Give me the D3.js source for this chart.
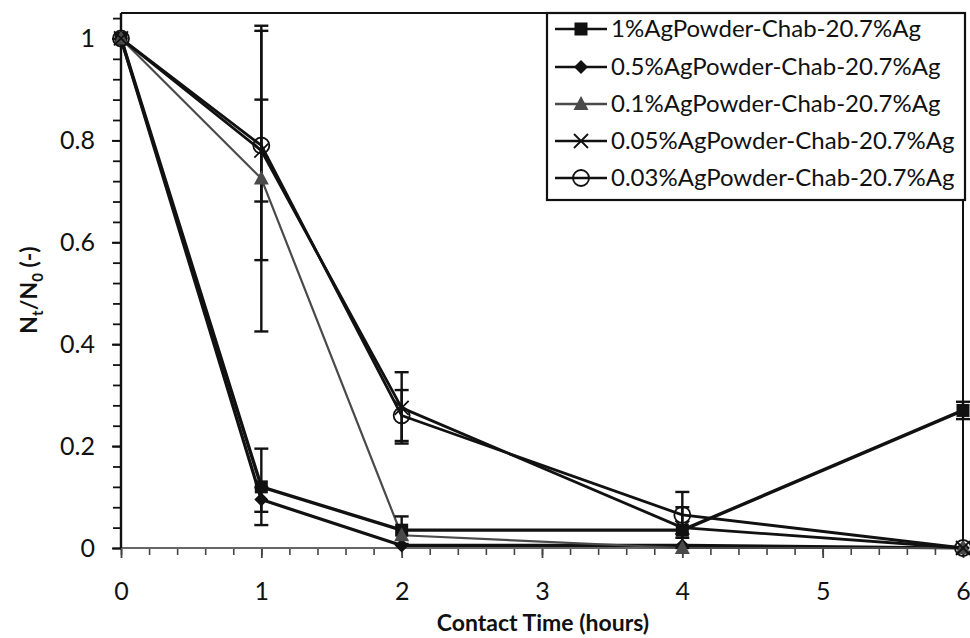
<!DOCTYPE html>
<html>
<head>
<meta charset="utf-8">
<script src="https://cdn.jsdelivr.net/npm/d3@7"></script>
<style>
  html, body { margin: 0; padding: 0; background: #fff; }
  svg { display: block; }
  text { font-family: Lato, "Open Sans", sans-serif; fill: #111; }
</style>
</head>
<body>
<svg id="chart" width="970" height="638"></svg>
<script>
// Contact time (hours) at which samples were taken
const times = [0, 1, 2, 4, 6];

// Normalised survivor ratio Nt/N0 for each silver loading, with error bar half-widths
const seriesNames = [
  "1%AgPowder-Chab-20.7%Ag",
  "0.5%AgPowder-Chab-20.7%Ag",
  "0.1%AgPowder-Chab-20.7%Ag",
  "0.05%AgPowder-Chab-20.7%Ag",
  "0.03%AgPowder-Chab-20.7%Ag"
];
const ag1Values   = [1, 0.12, 0.035, 0.035, 0.27];
const ag1Errors   = [0, 0.075, 0.027, 0, 0.017];
const ag05Values  = [1, 0.095, 0.005, 0.005, 0];
const ag05Errors  = [0, 0.024, 0, 0, 0];
const ag01Values  = [1, 0.725, 0.025, 0, 0];
const ag01Errors  = [0, 0.30, 0, 0, 0];
const ag005Values = [1, 0.78, 0.275, 0.04, 0];
const ag005Errors = [0, 0.10, 0.07, 0.04, 0];
const ag003Values = [1, 0.79, 0.26, 0.065, 0];
const ag003Errors = [0, 0.225, 0.05, 0.045, 0];

const xTicks = [0, 1, 2, 3, 4, 5, 6];
const yTicks = [0, 0.2, 0.4, 0.6, 0.8, 1];

const styles = [
  { color: "#111", width: 3.4, marker: "square" },
  { color: "#111", width: 3.2, marker: "diamond" },
  { color: "#4a4a4a", width: 2.2, marker: "triangle" },
  { color: "#111", width: 2.8, marker: "cross" },
  { color: "#111", width: 2.8, marker: "circle" }
];

const series = [
  { values: ag1Values, errors: ag1Errors },
  { values: ag05Values, errors: ag05Errors },
  { values: ag01Values, errors: ag01Errors },
  { values: ag005Values, errors: ag005Errors },
  { values: ag003Values, errors: ag003Errors }
].map((s, i) => ({
  name: seriesNames[i],
  style: styles[i],
  points: times.map((t, j) => ({ t, v: s.values[j], e: s.errors[j] }))
}));

const svg = d3.select("#chart");
const plot = { left: 121, right: 963, top: 13, bottom: 548 };

const x = d3.scaleLinear().domain([0, 6]).range([plot.left, plot.right]);
const y = d3.scaleLinear().domain([0, 1.05]).range([plot.bottom, plot.top]);

// Plot frame (top and right edges)
svg.append("path")
  .attr("d", `M${plot.left},${plot.top}H${plot.right}V${plot.bottom}`)
  .attr("fill", "none").attr("stroke", "#111").attr("stroke-width", 2);

// X axis with minor ticks every 0.2 h
const xMinor = d3.range(0, 6.0001, 0.2);
const xAxisG = svg.append("g").attr("transform", `translate(0,${plot.bottom})`);
xAxisG.call(d3.axisBottom(x).tickValues(xMinor).tickSize(7).tickFormat(""))
  .call(g => g.select(".domain").remove())
  .call(g => g.selectAll("line").attr("stroke", "#444").attr("stroke-width", 1.6));
xAxisG.append("g")
  .call(d3.axisBottom(x).tickValues(xTicks).tickSize(10).tickPadding(24).tickFormat(d3.format("d")))
  .call(g => g.select(".domain").remove())
  .call(g => g.selectAll("line").attr("stroke", "#444").attr("stroke-width", 1.8))
  .call(g => g.selectAll("text").attr("font-size", 25).attr("fill", "#111")
    .attr("font-family", "Lato, 'Open Sans', sans-serif"));
xAxisG.append("line")
  .attr("x1", plot.left).attr("x2", plot.right)
  .attr("stroke", "#666").attr("stroke-width", 2.2);

// Y axis with minor ticks every 0.04
const yMinor = d3.range(0, 1.0401, 0.04);
const yAxisG = svg.append("g").attr("transform", `translate(${plot.left},0)`);
yAxisG.call(d3.axisLeft(y).tickValues(yMinor).tickSize(8).tickFormat(""))
  .call(g => g.select(".domain").remove())
  .call(g => g.selectAll("line").attr("stroke", "#111").attr("stroke-width", 1.8));
yAxisG.append("g")
  .call(d3.axisLeft(y).tickValues(yTicks).tickSize(9).tickPadding(17).tickFormat(d => d === 0 || d === 1 ? d3.format("d")(d) : d3.format(".1f")(d)))
  .call(g => g.select(".domain").remove())
  .call(g => g.selectAll("line").attr("stroke", "#111").attr("stroke-width", 2))
  .call(g => g.selectAll("text").attr("font-size", 25).attr("fill", "#111")
    .attr("font-family", "Lato, 'Open Sans', sans-serif"));
yAxisG.append("line")
  .attr("y1", plot.top).attr("y2", plot.bottom)
  .attr("stroke", "#111").attr("stroke-width", 2.4);

// Axis titles
svg.append("text")
  .attr("x", 543).attr("y", 631)
  .attr("text-anchor", "middle")
  .attr("font-size", 23).attr("font-weight", "bold")
  .text("Contact Time (hours)");

const yTitle = svg.append("text")
  .attr("transform", "translate(37,290) rotate(-90)")
  .attr("text-anchor", "middle")
  .attr("font-size", 23).attr("font-weight", "bold");
yTitle.append("tspan").text("N");
yTitle.append("tspan").attr("font-size", 15).attr("dy", 6).text("t");
yTitle.append("tspan").attr("dy", -6).text("/N");
yTitle.append("tspan").attr("font-size", 15).attr("dy", 6).text("0");
yTitle.append("tspan").attr("dy", -6).text(" (-)");

// Series lines
const line = d3.line().x(d => x(d.t)).y(d => y(d.v));
svg.append("g").selectAll("path")
  .data(series)
  .join("path")
  .attr("d", d => line(d.points))
  .attr("fill", "none")
  .attr("stroke", d => d.style.color)
  .attr("stroke-width", d => d.style.width)
  .attr("stroke-linejoin", "round");

// Error bars
const errG = svg.append("g").attr("stroke", "#111").attr("stroke-width", 2.4);
series.forEach(s => {
  s.points.filter(p => p.e > 0).forEach(p => {
    const cx = x(p.t), y1 = y(p.v + p.e), y0 = y(p.v - p.e);
    errG.append("line").attr("x1", cx).attr("x2", cx).attr("y1", y1).attr("y2", y0);
    errG.append("line").attr("x1", cx - 7).attr("x2", cx + 7).attr("y1", y1).attr("y2", y1);
    errG.append("line").attr("x1", cx - 7).attr("x2", cx + 7).attr("y1", y0).attr("y2", y0);
  });
});

// Marker drawing helper
function drawMarker(g, kind, color, cx, cy) {
  if (kind === "square") {
    g.append("rect").attr("x", cx - 6.5).attr("y", cy - 6.5).attr("width", 13).attr("height", 13)
      .attr("fill", color);
  } else if (kind === "diamond") {
    g.append("path").attr("d", `M${cx},${cy - 7}L${cx + 7},${cy}L${cx},${cy + 7}L${cx - 7},${cy}Z`)
      .attr("fill", color);
  } else if (kind === "triangle") {
    g.append("path").attr("d", `M${cx},${cy - 8}L${cx + 7.5},${cy + 6}L${cx - 7.5},${cy + 6}Z`)
      .attr("fill", color);
  } else if (kind === "cross") {
    g.append("path").attr("d", `M${cx - 7},${cy - 7}L${cx + 7},${cy + 7}M${cx - 7},${cy + 7}L${cx + 7},${cy - 7}`)
      .attr("stroke", color).attr("stroke-width", 1.8).attr("fill", "none");
  } else if (kind === "circle") {
    g.append("circle").attr("cx", cx).attr("cy", cy).attr("r", 8)
      .attr("stroke", color).attr("stroke-width", 1.8).attr("fill", "none");
  }
}

const markG = svg.append("g");
series.forEach(s => {
  s.points.forEach(p => drawMarker(markG, s.style.marker, s.style.color, x(p.t), y(p.v)));
});

// Legend
const legend = svg.append("g");
legend.append("rect")
  .attr("x", 547).attr("y", 13).attr("width", 418).attr("height", 187)
  .attr("fill", "#fff").attr("stroke", "#111").attr("stroke-width", 2.2);
const legendRows = [29, 67, 104, 141, 178];
series.forEach((s, i) => {
  const ly = legendRows[i];
  legend.append("line")
    .attr("x1", 555).attr("x2", 607).attr("y1", ly).attr("y2", ly)
    .attr("stroke", s.style.color).attr("stroke-width", 2.4);
  drawMarker(legend, s.style.marker, s.style.color, 581, ly);
  legend.append("text")
    .attr("x", 611).attr("y", ly)
    .attr("dy", "0.35em")
    .attr("font-size", 24)
    .text(s.name);
});
</script>
</body>
</html>
